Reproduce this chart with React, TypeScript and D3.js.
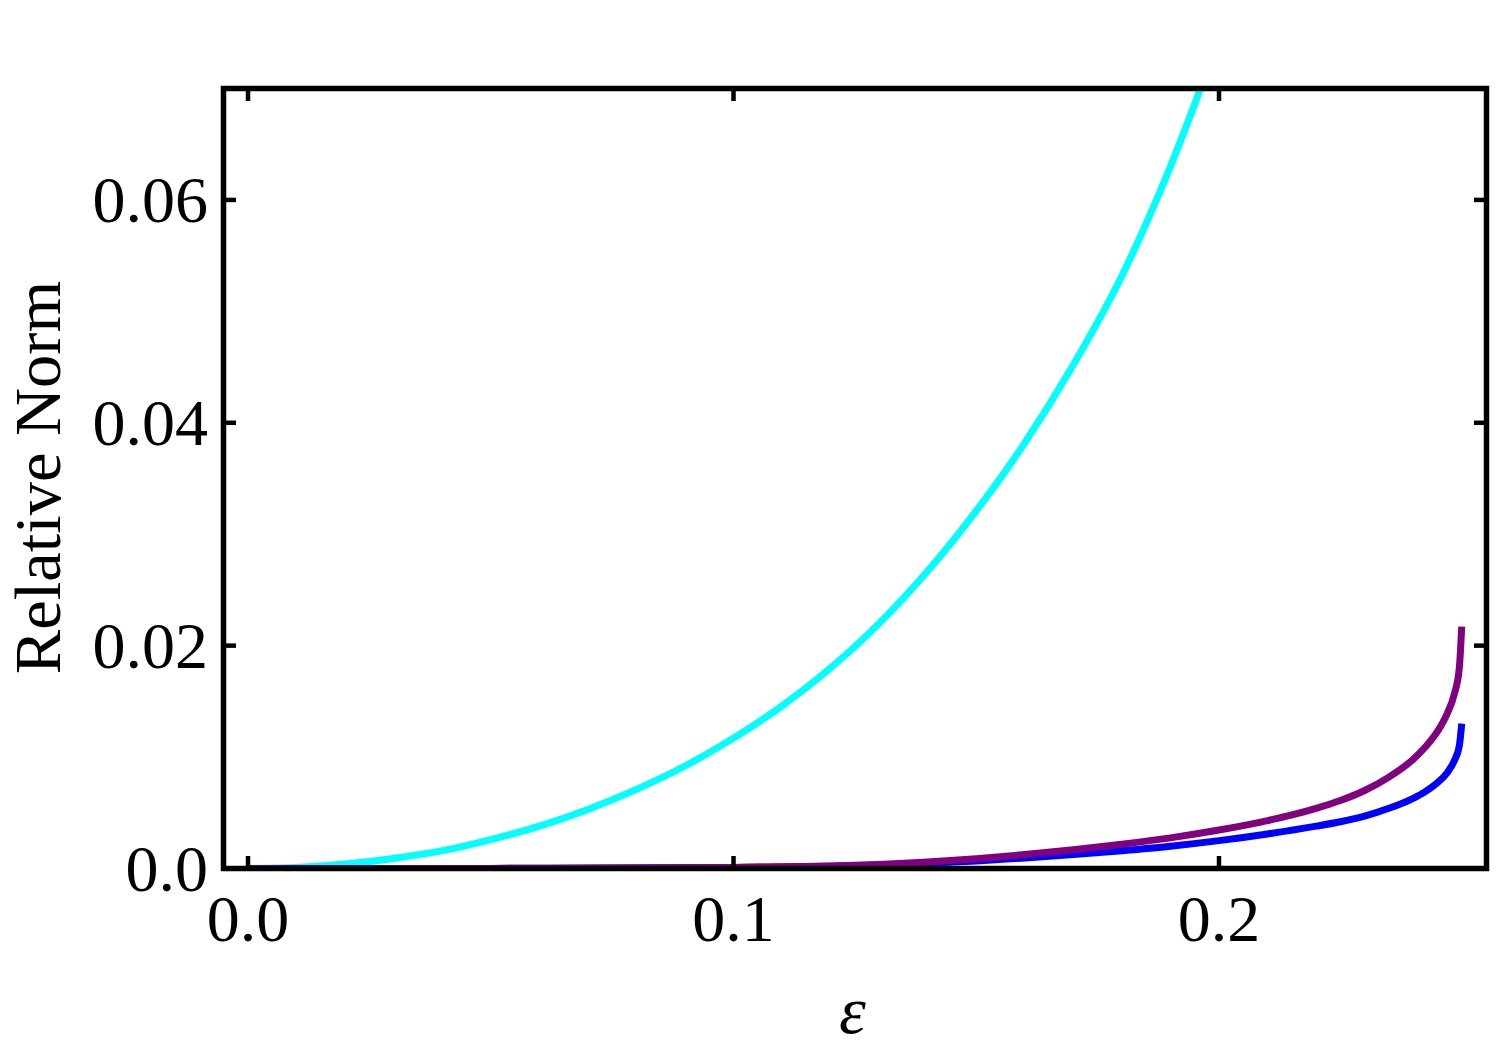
import React from "react";
import * as d3 from "d3";

const xTicks = [0, 0.1, 0.2];
const xTickLabels = ["0.0", "0.1", "0.2"];
const yTicks = [0, 0.02, 0.04, 0.06];
const yTickLabels = ["0.0", "0.02", "0.04", "0.06"];

const cyanEps = [0, 0.01, 0.02, 0.03, 0.04, 0.05, 0.06, 0.07, 0.08, 0.09, 0.1, 0.11, 0.12, 0.13, 0.14, 0.15, 0.16, 0.17, 0.18, 0.19, 0.2];
const cyanVal = [0, 0.0001, 0.0004, 0.0009, 0.0016, 0.0026, 0.0038, 0.0053, 0.0071, 0.0092, 0.0117, 0.0146, 0.018, 0.022, 0.0267, 0.0321, 0.0382, 0.0452, 0.0532, 0.063, 0.0745];

const blueEps = [0, 0.05, 0.1, 0.11, 0.12, 0.13, 0.14, 0.15, 0.16, 0.17, 0.18, 0.19, 0.2, 0.21, 0.22, 0.225, 0.23, 0.235, 0.24, 0.2425, 0.245, 0.247, 0.2485, 0.2495, 0.25];
const blueVal = [0, 0.00001, 0.0001, 0.00014, 0.0002, 0.00032, 0.00048, 0.00068, 0.00095, 0.00125, 0.0016, 0.002, 0.0025, 0.0031, 0.0038, 0.0042, 0.0047, 0.0054, 0.0063, 0.0069, 0.0077, 0.0086, 0.0097, 0.011, 0.013];

const purpleEps = [0, 0.05, 0.1, 0.11, 0.12, 0.13, 0.14, 0.15, 0.16, 0.17, 0.18, 0.19, 0.2, 0.21, 0.22, 0.225, 0.23, 0.235, 0.24, 0.2425, 0.245, 0.247, 0.2485, 0.2495, 0.25];
const purpleVal = [0, 0.00001, 0.0001, 0.00015, 0.00022, 0.00036, 0.00058, 0.00088, 0.00125, 0.00168, 0.00218, 0.00275, 0.00345, 0.0043, 0.0054, 0.0061, 0.007, 0.0082, 0.0098, 0.0109, 0.0123, 0.0139, 0.0157, 0.018, 0.0217];

const seriesColors = ["#00FFFF", "#0000FF", "#800080"];

export default function App() {
  const W = 1500;
  const H = 1051;
  const left = 223.5, right = 1486.5, top = 88.5, bottom = 868.5;
  const x = d3.scaleLinear().domain([-0.00505, 0.2551]).range([left, right]);
  const y = d3.scaleLinear().domain([0, 0.07]).range([bottom, top]);

  const line = d3
    .line<[number, number]>()
    .x((d) => x(d[0]))
    .y((d) => y(d[1]))
    .curve(d3.curveMonotoneX);

  const series = [
    cyanEps.map((e, i) => [e, cyanVal[i]] as [number, number]),
    blueEps.map((e, i) => [e, blueVal[i]] as [number, number]),
    purpleEps.map((e, i) => [e, purpleVal[i]] as [number, number]),
  ];

  const font = "'Liberation Serif', 'Times New Roman', serif";
  const tickLen = 12.5;
  const sw = 5.5;

  return (
    <svg
      width={W}
      height={H}
      style={{ position: "absolute", left: 0, top: 0, background: "#fff" }}
    >
      <defs>
        <clipPath id="plotClip">
          <rect x={left} y={top} width={right - left} height={bottom - top} />
        </clipPath>
      </defs>
      <rect x={0} y={0} width={W} height={H} fill="#fff" />
      <g clipPath="url(#plotClip)">
        {series.map((s, i) => (
          <path
            key={i}
            d={line(s) || ""}
            fill="none"
            stroke={seriesColors[i]}
            strokeWidth={7}
            strokeLinejoin="round"
          />
        ))}
      </g>
      {xTicks.map((t, i) => (
        <g key={"xt" + i}>
          <line x1={x(t)} x2={x(t)} y1={bottom} y2={bottom - tickLen} stroke="#000" strokeWidth={4.5} />
          <line x1={x(t)} x2={x(t)} y1={top} y2={top + tickLen} stroke="#000" strokeWidth={4.5} />
          <text x={x(t)} y={941} textAnchor="middle" fontFamily={font} fontSize={66} fill="#000">
            {xTickLabels[i]}
          </text>
        </g>
      ))}
      {yTicks.map((t, i) => (
        <g key={"yt" + i}>
          <line x1={left} x2={left + tickLen} y1={y(t)} y2={y(t)} stroke="#000" strokeWidth={4.5} />
          <line x1={right} x2={right - tickLen} y1={y(t)} y2={y(t)} stroke="#000" strokeWidth={4.5} />
          <text x={208} y={y(t) + 22.5} textAnchor="end" fontFamily={font} fontSize={66} fill="#000">
            {yTickLabels[i]}
          </text>
        </g>
      ))}
      <rect
        x={left}
        y={top}
        width={right - left}
        height={bottom - top}
        fill="none"
        stroke="#000"
        strokeWidth={sw}
      />
      <text
        x={852.5}
        y={1033}
        textAnchor="middle"
        fontFamily={font}
        fontStyle="italic"
        fontSize={68}
        fill="#000"
      >
        ε
      </text>
      <text
        transform="translate(60,477.5) rotate(-90)"
        textAnchor="middle"
        fontFamily={font}
        fontSize={66.5}
        fill="#000"
      >
        Relative Norm
      </text>
    </svg>
  );
}
